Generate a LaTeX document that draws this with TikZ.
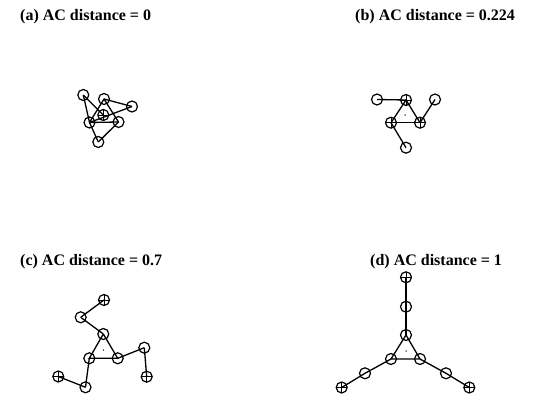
\documentclass[tikz,border=0pt]{standalone}
\usepackage{fontspec}
\setmainfont{Liberation Serif}
\begin{document}
\begin{tikzpicture}[x=1pt,y=-1pt,
  atom/.style={circle,draw,line width=1.2pt,minimum size=11pt,inner sep=0pt},
  xatom/.style={atom,path picture={
     \draw[line width=0.9pt] (path picture bounding box.north) -- (path picture bounding box.south)
       (path picture bounding box.west) -- (path picture bounding box.east);}},
  bond/.style={line width=1.3pt},
  lbl/.style={anchor=west,inner sep=0pt,font=\fontsize{16}{19}\selectfont\bfseries},
  cdot/.style={circle,fill,inner sep=0pt,minimum size=1.5pt}]
\useasboundingbox (0,0) rectangle (533,398);

% labels
\node[lbl] (la) at (20,17) {(a) AC distance = 0};
\node[lbl] (lb) at (355,17) {(b) AC distance = 0.224};
\node[lbl] (lc) at (20,262) {(c) AC distance = 0.7};
\node[lbl] (ld) at (370,262) {(d) AC distance = 1};

% (a)
\node[atom] (aA) at (83.3,95) {};
\node[atom] (aB) at (104,99) {};
\node[atom] (aC) at (132,106.5) {};
\node[xatom] (aD) at (103.3,115) {};
\node[atom] (aE) at (89.5,122.5) {};
\node[atom] (aF) at (118.5,122) {};
\node[atom] (aG) at (98.3,142) {};
\draw[bond] (aA.center) -- (aE.center);
\draw[bond] (aA.center) -- (aD.center);
\draw[bond] (aB.center) -- (aC.center);
\draw[bond] (aB.center) -- (aE.center);
\draw[bond] (aB.center) -- (aF.center);
\draw[bond] (aE.center) -- (aF.center);
\draw[bond] (aC.center) -- (aE.center);
\draw[bond] (aG.center) -- (aE.center);
\draw[bond] (aG.center) -- (aF.center);

% (b)
\node[atom] (bA) at (377,99.5) {};
\node[xatom] (bB) at (406,100) {};
\node[atom] (bC) at (435,99.5) {};
\node[xatom] (bD) at (391,122.7) {};
\node[xatom] (bE) at (420,122.7) {};
\node[atom] (bF) at (406,147.7) {};
\node[cdot] (bdot) at (405,115) {};
\draw[bond] (bA.center) -- (bB.center);
\draw[bond] (bB.center) -- (bD.center);
\draw[bond] (bB.center) -- (bE.center);
\draw[bond] (bD.center) -- (bE.center);
\draw[bond] (bE.center) -- (bC.center);
\draw[bond] (bD.center) -- (bF.center);

% (c)
\node[atom] (cT) at (103.3,334) {};
\node[atom] (cL) at (89.3,358.3) {};
\node[atom] (cR) at (117.7,358.3) {};
\node[atom] (cM1) at (80.7,317.3) {};
\node[xatom] (cX1) at (104,300) {};
\node[atom] (cM2) at (144.3,347.7) {};
\node[xatom] (cX2) at (146.7,376.7) {};
\node[atom] (cM3) at (85.5,387.3) {};
\node[xatom] (cX3) at (58.3,376.5) {};
\node[cdot] (cdt) at (103.3,350) {};
\draw[bond] (cT.center) -- (cL.center) -- (cR.center) -- (cT.center);
\draw[bond] (cT.center) -- (cM1.center);
\draw[bond] (cM1.center) -- (cX1.center);
\draw[bond] (cR.center) -- (cM2.center);
\draw[bond] (cM2.center) -- (cX2.center);
\draw[bond] (cL.center) -- (cM3.center);
\draw[bond] (cM3.center) -- (cX3.center);

% (d)
\node[xatom] (dX1) at (406,277.3) {};
\node[atom] (dM1) at (406,306.7) {};
\node[atom] (dT) at (406,335) {};
\node[atom] (dL) at (391,359) {};
\node[atom] (dR) at (420,359) {};
\node[atom] (dM3) at (365,373.3) {};
\node[xatom] (dX3) at (341.7,387.5) {};
\node[atom] (dM2) at (446,373.3) {};
\node[xatom] (dX2) at (469.3,387.5) {};
\node[cdot] (ddt) at (406,351) {};
\draw[bond] (dT.center) -- (dL.center) -- (dR.center) -- (dT.center);
\draw[bond] (dT.center) -- (dM1.center);
\draw[bond] (dM1.center) -- (dX1.center);
\draw[bond] (dR.center) -- (dM2.center);
\draw[bond] (dM2.center) -- (dX2.center);
\draw[bond] (dL.center) -- (dM3.center);
\draw[bond] (dM3.center) -- (dX3.center);
\end{tikzpicture}
\end{document}
